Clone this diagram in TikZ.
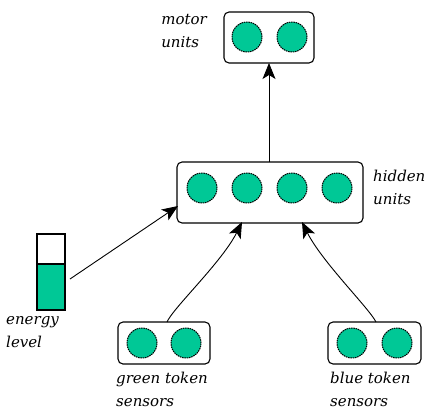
\documentclass[tikz,border=0pt]{standalone}
\usepackage{fontspec}
\setmainfont{DejaVu Serif}
\usetikzlibrary{arrows.meta}
\definecolor{unitgreen}{RGB}{0,200,150}
\begin{document}
\begin{tikzpicture}[x=1pt,y=-1pt,
  group/.style={draw,rounded corners=5pt,line width=1.1pt},
  unit/.style={circle,draw,dashed,dash pattern=on 1.5pt off 0.8pt,fill=unitgreen,minimum size=30pt,inner sep=0pt,line width=1pt},
  lab/.style={font=\itshape\fontsize{15}{23}\selectfont,align=left,inner sep=0pt},
  conn/.style={-{Stealth[length=16pt,width=13pt,inset=4pt]},line width=0.9pt}]
\useasboundingbox (0,0) rectangle (433,416);
% motor units
\node[group,minimum width=90pt,minimum height=51pt] (motor) at (269,37.5) {};
\node[unit] (m1) at (247,37) {};
\node[unit] (m2) at (292,37) {};
\node[lab,anchor=east] (motorlab) at (207,31) {motor\\units};
% hidden units
\node[group,minimum width=186pt,minimum height=61pt] (hidden) at (270,192.5) {};
\node[unit] (h1) at (202,188) {};
\node[unit] (h2) at (247,188) {};
\node[unit] (h3) at (292,188) {};
\node[unit] (h4) at (337,188) {};
\node[lab,anchor=west] (hiddenlab) at (373,187) {hidden\\units};
% energy bar
\node[draw,line width=1.1pt,minimum width=28pt,minimum height=30pt,inner sep=0pt] (etop) at (51,249) {};
\node[draw,fill=unitgreen,line width=1.1pt,minimum width=28pt,minimum height=46pt,inner sep=0pt] (ebot) at (51,287) {};
\node[lab,anchor=north west] (energylab) at (6,316) {energy\\level};
% sensors
\node[group,minimum width=92pt,minimum height=42pt] (green) at (164,343) {};
\node[unit] (g1) at (142,343) {};
\node[unit] (g2) at (186,343) {};
\node[lab,anchor=north west] (greenlab) at (116,372) {green token\\sensors};
\node[group,minimum width=93pt,minimum height=42pt] (blue) at (374.5,343) {};
\node[unit] (b1) at (352,343) {};
\node[unit] (b2) at (397,343) {};
\node[lab,anchor=north west] (bluelab) at (330,372) {blue token\\sensors};
% connectors
\coordinate (motorin) at (269,63);
\coordinate (hiddenout) at (269,162);
\draw[conn] (hiddenout) -- (motorin);
\coordinate (hin1) at (178,206);
\coordinate (hin2) at (242,222);
\coordinate (hin3) at (302,222);
\coordinate (eout) at (70,279);
\coordinate (gout) at (167,322);
\coordinate (bout) at (376,322);
\draw[conn] (eout) -- (hin1);
\draw[conn] (gout) .. controls (173,308) and (222,262) .. (hin2);
\draw[conn] (bout) .. controls (369,308) and (322,262) .. (hin3);
\end{tikzpicture}
\end{document}
